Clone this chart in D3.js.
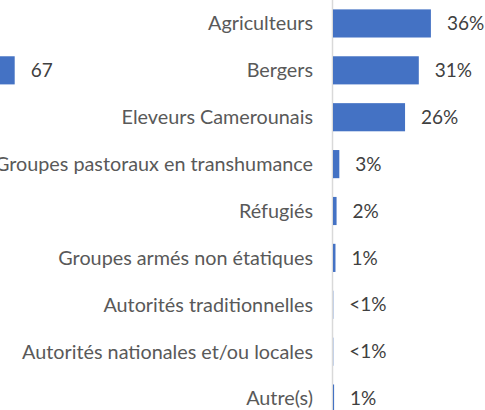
<!DOCTYPE html>
<html>
<head>
<meta charset="utf-8">
<script src="https://cdn.jsdelivr.net/npm/d3@7"></script>
<style>
  html, body { margin: 0; padding: 0; background: #fff; }
  svg { display: block; }
  text { font-family: Lato, "Open Sans", sans-serif; }
</style>
</head>
<body>
<svg id="chart" width="485" height="410"></svg>
<script>
const categories = [
  "Agriculteurs",
  "Bergers",
  "Eleveurs Camerounais",
  "Groupes pastoraux en transhumance",
  "Réfugiés",
  "Groupes armés non étatiques",
  "Autorités traditionnelles",
  "Autorités nationales et/ou locales",
  "Autre(s)"
];
const values = [35.6, 31.2, 26.2, 2.3, 1.3, 0.9, 0.1, 0.1, 0.4];
const valueLabels = ["36%", "31%", "26%", "3%", "2%", "1%", "<1%", "<1%", "1%"];

// fragment of a neighbouring chart cut off at the left edge
const leftValues = [67];
const leftLabels = ["67"];

const svg = d3.select("#chart");
const blue = "#4472C4";

const y = d3.scaleBand()
  .domain(categories)
  .range([0, 422])
  .paddingInner(0.4)
  .paddingOuter(0.2);

const axisX = 332.5;
const x = d3.scaleLinear().domain([0, 40]).range([333, 443]);

// axis line
svg.append("line")
  .attr("x1", axisX).attr("x2", axisX)
  .attr("y1", 0).attr("y2", 410)
  .attr("stroke", "#d9d9d9").attr("stroke-width", 1.5);

// bars
svg.selectAll("rect.bar")
  .data(values)
  .join("rect")
  .attr("class", "bar")
  .attr("x", x(0))
  .attr("y", (d, i) => y(categories[i]))
  .attr("width", d => x(d) - x(0))
  .attr("height", y.bandwidth())
  .attr("fill", blue);

// category labels
svg.selectAll("text.cat")
  .data(categories)
  .join("text")
  .attr("class", "cat")
  .attr("x", 313)
  .attr("y", d => y(d) + y.bandwidth() / 2)
  .attr("dy", "0.35em")
  .attr("text-anchor", "end")
  .attr("font-size", 19.8)
  .attr("fill", "#595959")
  .text(d => d);

// value labels
svg.selectAll("text.val")
  .data(values)
  .join("text")
  .attr("class", "val")
  .attr("x", d => x(d) + 16)
  .attr("y", (d, i) => y(categories[i]) + y.bandwidth() / 2)
  .attr("dy", "0.35em")
  .attr("font-size", 19)
  .attr("fill", "#404040")
  .text((d, i) => valueLabels[i]);

// left fragment
const xLeft = d3.scaleLinear().domain([0, 67]).range([-150, 14.7]);
svg.selectAll("rect.left")
  .data(leftValues)
  .join("rect")
  .attr("class", "left")
  .attr("x", xLeft(0))
  .attr("y", y(categories[1]))
  .attr("width", d => xLeft(d) - xLeft(0))
  .attr("height", y.bandwidth())
  .attr("fill", blue);
svg.selectAll("text.leftval")
  .data(leftValues)
  .join("text")
  .attr("class", "leftval")
  .attr("x", d => xLeft(d) + 16)
  .attr("y", y(categories[1]) + y.bandwidth() / 2)
  .attr("dy", "0.35em")
  .attr("font-size", 19)
  .attr("fill", "#404040")
  .text((d, i) => leftLabels[i]);
</script>
</body>
</html>
